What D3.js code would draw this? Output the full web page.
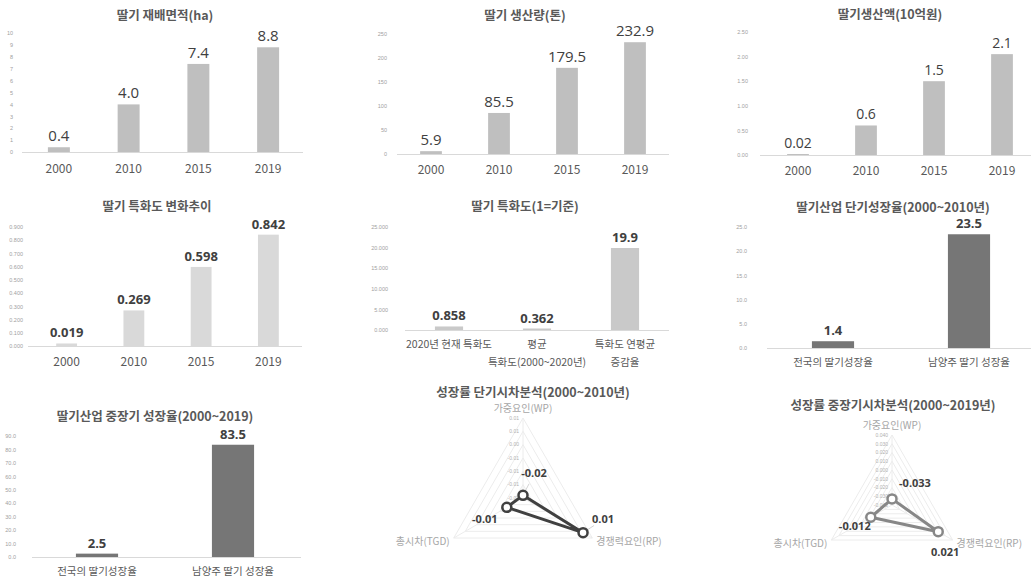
<!DOCTYPE html>
<html><head><meta charset="utf-8">
<script src="https://cdn.jsdelivr.net/npm/d3@7"></script>
<style>
html,body{margin:0;padding:0;background:#fff;}
svg{display:block;font-family:"Noto Sans CJK KR","Noto Sans",sans-serif;}
</style></head>
<body>
<svg id="c" width="1031" height="577"></svg>
<script>
// ---------- data ----------
const years = ["2000", "2010", "2015", "2019"];
const areaValues = [0.4, 4.0, 7.4, 8.8];
const areaLabels = ["0.4", "4.0", "7.4", "8.8"];
const areaTicks = [0, 1, 2, 3, 4, 5, 6, 7, 8, 9, 10];

const prodValues = [5.9, 85.5, 179.5, 232.9];
const prodLabels = ["5.9", "85.5", "179.5", "232.9"];
const prodTicks = [0, 50, 100, 150, 200, 250];

const salesValues = [0.02, 0.6, 1.5, 2.05];
const salesLabels = ["0.02", "0.6", "1.5", "2.1"];
const salesTicks = [0, 0.5, 1.0, 1.5, 2.0, 2.5];

const lqTrendValues = [0.019, 0.269, 0.598, 0.842];
const lqTrendLabels = ["0.019", "0.269", "0.598", "0.842"];
const lqTrendTicks = [0, 0.1, 0.2, 0.3, 0.4, 0.5, 0.6, 0.7, 0.8, 0.9];

const lqCats = [["2020년 현재 특화도"], ["평균", "특화도(2000~2020년)"], ["특화도 연평균", "증감율"]];
const lqValues = [0.858, 0.362, 19.9];
const lqLabels = ["0.858", "0.362", "19.9"];
const lqTicks = [0, 5, 10, 15, 20, 25];

const growthCats = [["전국의 딸기성장율"], ["남양주 딸기 성장율"]];
const shortGrowthValues = [1.4, 23.5];
const shortGrowthLabels = ["1.4", "23.5"];
const shortGrowthTicks = [0, 5, 10, 15, 20, 25];
const longGrowthValues = [2.5, 83.5];
const longGrowthLabels = ["2.5", "83.5"];
const longGrowthTicks = [0, 10, 20, 30, 40, 50, 60, 70, 80, 90];

const shiftAxes = ["가중요인(WP)", "경쟁력요인(RP)", "총시차(TGD)"];
const shortShiftValues = [-0.019, 0.006, -0.013];
const shortShiftTicks = [-0.02, -0.015, -0.01, -0.005, 0, 0.005, 0.01];
const longShiftValues = [-0.033, 0.021, -0.012];
const longShiftTicks = [-0.04, -0.03, -0.02, -0.01, 0, 0.01, 0.02, 0.03, 0.04];

// ---------- drawing ----------
const svg = d3.select("#c");
const loc = d3.formatLocale({decimal: ".", thousands: ",", grouping: [3], currency: ["", ""], minus: "-"});

function barPanel(o) {
  const g = svg.append("g");
  const cats = o.cats.map((c, i) => i);
  const x = d3.scaleBand().domain(cats).range([o.x0, o.x1]).paddingInner(o.pad).paddingOuter(o.pad / 2);
  const y = d3.scaleLinear().domain([0, d3.max(o.ticks)]).range([o.yBase, o.yTop]);
  g.append("text").attr("x", o.tx).attr("y", o.ty).attr("text-anchor", "middle")
    .attr("font-size", o.titleSize || 12.5).attr("font-weight", "bold").attr("fill", "#595959").text(o.title);
  const ay = d3.axisLeft(y).tickValues(o.ticks).tickSize(0).tickFormat(loc.format(o.tickFmt));
  const ag = g.append("g").attr("transform", `translate(${o.tickX},0)`).call(ay);
  ag.select(".domain").remove();
  ag.selectAll("text").attr("font-size", 5.5).attr("fill", "#a0a0a0").attr("dx", 0)
    .style("font-family", "'Liberation Sans',sans-serif");
  g.selectAll("rect.bar").data(o.values).enter().append("rect")
    .attr("x", (d, i) => x(i)).attr("width", x.bandwidth())
    .attr("y", d => y(d)).attr("height", d => y(0) - y(d)).attr("fill", o.color);
  g.append("line").attr("x1", o.bx0 ?? o.x0).attr("x2", o.bx1 ?? o.x1).attr("y1", y(0) + 0.5).attr("y2", y(0) + 0.5)
    .attr("stroke", "#d9d9d9").attr("stroke-width", 1);
  g.selectAll("text.val").data(o.values).enter().append("text")
    .attr("x", (d, i) => x(i) + x.bandwidth() / 2).attr("y", d => y(d) - o.valGap)
    .attr("text-anchor", "middle").attr("font-size", o.valSize).attr("font-weight", o.valBold ? "bold" : "normal")
    .attr("fill", "#404040").style("font-family", "'Open Sans','Liberation Sans',sans-serif")
    .text((d, i) => o.labels[i]);
  o.cats.forEach((c, i) => {
    const lines = Array.isArray(c) ? c : [c];
    lines.forEach((line, j) => {
      g.append("text").attr("x", x(i) + x.bandwidth() / 2).attr("y", o.catY + j * 18)
        .attr("text-anchor", "middle").attr("dominant-baseline", "middle")
        .attr("font-size", o.catSize).attr("fill", "#595959").text(line);
    });
  });
}

barPanel({title: "딸기 재배면적(ha)", tx: 165, ty: 20, cats: years, values: areaValues, labels: areaLabels, ticks: areaTicks,
  tickFmt: "d", x0: 24, x1: 303, bx0: 22, pad: 0.685, yTop: 33, yBase: 152, tickX: 16, color: "#bfbfbf",
  valSize: 15, valGap: 6, valBold: false, catY: 170, catSize: 12});
barPanel({title: "딸기 생산량(톤)", tx: 525, ty: 20, cats: years, values: prodValues, labels: prodLabels, ticks: prodTicks,
  tickFmt: "d", x0: 397, x1: 669, pad: 0.68, yTop: 34, yBase: 154, tickX: 390, color: "#bfbfbf",
  valSize: 15, valGap: 6, valBold: false, catY: 171, catSize: 12});
barPanel({title: "딸기생산액(10억원)", tx: 890, ty: 19, cats: years, values: salesValues, labels: salesLabels, ticks: salesTicks,
  tickFmt: ".2f", x0: 764, x1: 1036, bx0: 760, bx1: 1031, pad: 0.68, yTop: 32, yBase: 155, tickX: 751, color: "#bfbfbf",
  valSize: 14, valGap: 6, valBold: false, catY: 172, catSize: 12});
barPanel({title: "딸기 특화도 변화추이", tx: 157, ty: 211, cats: years, values: lqTrendValues, labels: lqTrendLabels, ticks: lqTrendTicks,
  tickFmt: ".3f", x0: 33, x1: 302, bx0: 28, pad: 0.69, yTop: 227, yBase: 346, tickX: 26, color: "#d9d9d9",
  valSize: 13, valGap: 6, valBold: true, catY: 363, catSize: 12});
barPanel({title: "딸기 특화도(1=기준)", tx: 525, ty: 211, cats: lqCats, values: lqValues, labels: lqLabels, ticks: lqTicks,
  tickFmt: ".3f", x0: 405, x1: 669, pad: 0.68, yTop: 227, yBase: 330, tickX: 391, color: "#c9c9c9",
  valSize: 13, valGap: 6, valBold: true, catY: 345, catSize: 10.5});
barPanel({title: "딸기산업 단기성장율(2000~2010년)", tx: 893, ty: 212, cats: growthCats, values: shortGrowthValues, labels: shortGrowthLabels, ticks: shortGrowthTicks,
  tickFmt: ".1f", x0: 765, x1: 1037, bx0: 767, bx1: 1031, pad: 0.69, yTop: 227, yBase: 348, tickX: 750, color: "#767676",
  valSize: 13, valGap: 6, valBold: true, catY: 363, catSize: 10.5});
barPanel({title: "딸기산업 중장기 성장율(2000~2019)", tx: 155, ty: 421, cats: growthCats, values: longGrowthValues, labels: longGrowthLabels, ticks: longGrowthTicks,
  tickFmt: ".1f", x0: 29, x1: 301, bx0: 32, pad: 0.69, yTop: 436, yBase: 557, tickX: 19, color: "#767676",
  valSize: 13, valGap: 6, valBold: true, catY: 572, catSize: 10.5});

function radarPanel(o) {
  const g = svg.append("g");
  const n = shiftAxes.length;
  const ang = i => -Math.PI / 2 + i * 2 * Math.PI / n;
  const r = d3.scaleLinear().domain([d3.min(o.ticks), d3.max(o.ticks)]).range([0, o.R]);
  const pt = (i, rad) => [o.cx + rad * Math.cos(ang(i)), o.cy + rad * Math.sin(ang(i))];
  g.append("text").attr("x", o.tx).attr("y", o.ty).attr("text-anchor", "middle")
    .attr("font-size", 12.5).attr("font-weight", "bold").attr("fill", "#595959").text(o.title);
  const line = d3.line();
  o.ticks.slice(1).forEach(t => {
    g.append("path").attr("d", line(d3.range(n).map(i => pt(i, r(t)))) + "Z")
      .attr("fill", "none").attr("stroke", "#ececec").attr("stroke-width", 1);
  });
  d3.range(n).forEach(i => {
    const p = pt(i, o.R);
    g.append("line").attr("x1", o.cx).attr("y1", o.cy).attr("x2", p[0]).attr("y2", p[1])
      .attr("stroke", "#ececec").attr("stroke-width", 1);
  });
  const fmt = loc.format(o.tickFmt);
  o.ticks.forEach(t => {
    g.append("text").attr("x", o.cx - 4).attr("y", o.cy - r(t)).attr("dy", "0.35em")
      .attr("text-anchor", "end").attr("font-size", 5).attr("fill", "#b0b0b0")
      .style("font-family", "'Liberation Sans',sans-serif").text(fmt(t));
  });
  shiftAxes.forEach((a, i) => {
    const p = pt(i, o.R);
    let ax = p[0], ay = p[1], anchor = "middle";
    if (i === 0) { ay -= 9; }
    else if (i === 1) { ax += 4; ay += 4; anchor = "start"; }
    else { ax -= 4; ay += 4; anchor = "end"; }
    g.append("text").attr("x", ax).attr("y", ay).attr("text-anchor", anchor).attr("dominant-baseline", "middle")
      .attr("font-size", 10).attr("fill", "#a6a6a6").text(a);
  });
  const pts = o.values.map((v, i) => pt(i, r(v)));
  (o.leaders || []).forEach(k => {
    const p = pts[k], off = o.labelOff[k];
    g.append("line").attr("x1", p[0] + off[0] * 0.55).attr("y1", p[1] + off[1] * 0.55)
      .attr("x2", p[0] + off[0] * 0.2).attr("y2", p[1] + off[1] * 0.2)
      .attr("stroke", "#c8c8c8").attr("stroke-width", 0.8);
  });
  g.append("path").attr("d", line(pts) + "Z").attr("fill", "none").attr("stroke", o.color)
    .attr("stroke-width", 3).attr("stroke-linejoin", "round");
  g.selectAll("circle").data(pts).enter().append("circle").attr("cx", d => d[0]).attr("cy", d => d[1])
    .attr("r", 4.5).attr("fill", "#fff").attr("stroke", o.color).attr("stroke-width", 2.5);
  const vf = loc.format(o.valFmt);
  o.values.forEach((v, i) => {
    const p = pts[i], off = o.labelOff[i];
    g.append("text").attr("x", p[0] + off[0]).attr("y", p[1] + off[1]).attr("text-anchor", "middle")
      .attr("dominant-baseline", "middle").attr("font-size", 11).attr("font-weight", "bold")
      .attr("fill", "#404040").style("font-family", "'Open Sans','Liberation Sans',sans-serif").text(vf(v));
  });
}

radarPanel({title: "성장률 단기시차분석(2000~2010년)", tx: 533, ty: 397, cx: 523, cy: 498, R: 80,
  values: shortShiftValues, ticks: shortShiftTicks, tickFmt: ".2f", valFmt: ".2f", color: "#404040",
  labelOff: [[11, -21], [20, -13], [-22, 13]], leaders: [0, 1]});
radarPanel({title: "성장률 중장기시차분석(2000~2019년)", tx: 893, ty: 410, cx: 892, cy: 505, R: 70,
  values: longShiftValues, ticks: longShiftTicks, tickFmt: ".3f", valFmt: ".3f", color: "#878787",
  labelOff: [[23, -15], [7, 21], [-16, 10]]});
</script>
</body></html>
